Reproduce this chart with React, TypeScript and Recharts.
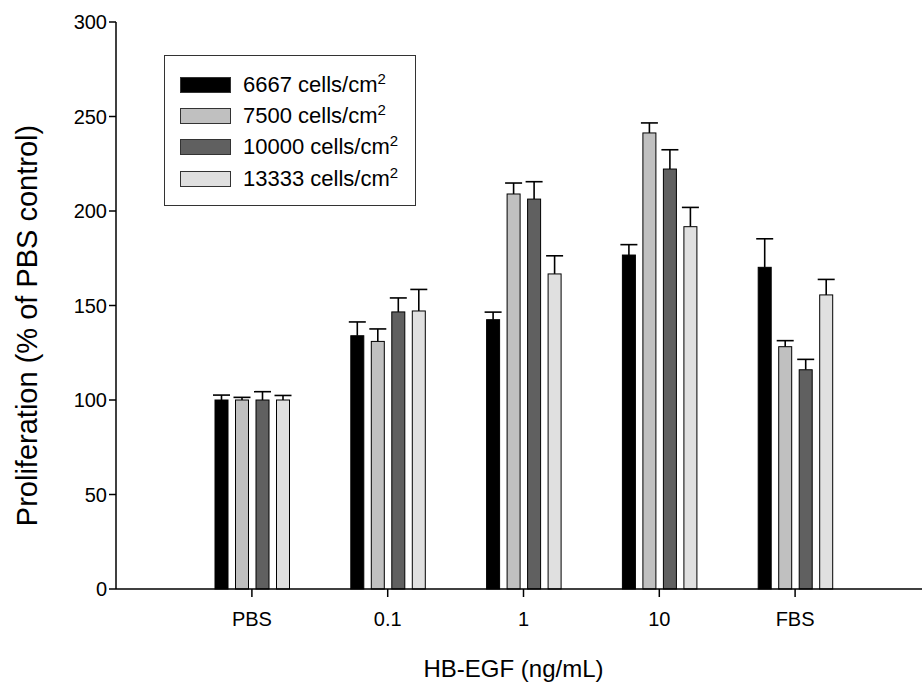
import React from 'react';
import { BarChart, Bar, XAxis, YAxis, Legend } from 'recharts';

const categories = ['PBS', '0.1', '1', '10', 'FBS'];
const seriesNames = ['6667', '7500', '10000', '13333'];
const s6667 = [100, 134, 142.5, 176.7, 170.2];
const e6667 = [2.6, 7.3, 4, 5.5, 15.1];
const s7500 = [100, 131, 209, 241.3, 128.2];
const e7500 = [1.4, 6.6, 5.8, 5.3, 3.2];
const s10000 = [100, 146.6, 206.3, 222.2, 116];
const e10000 = [4.4, 7.4, 9.2, 10.2, 5.5];
const s13333 = [100, 147.1, 166.7, 191.7, 155.6];
const e13333 = [2.4, 11.4, 9.6, 10.2, 8.2];
const yTicks = [0, 50, 100, 150, 200, 250, 300];
const colors = ['#000000', '#c0c0c0', '#606060', '#e0e0e0'];
const xTitle = 'HB-EGF (ng/mL)';
const yTitle = 'Proliferation (% of PBS control)';

const values = [s6667, s7500, s10000, s13333];
const errors = [e6667, e7500, e10000, e13333];

const data = categories.map((c, i) => {
  const row: any = { cat: c };
  values.forEach((s, k) => {
    row['v' + k] = s[i];
    row['e' + k] = errors[k][i];
  });
  return row;
});

const FONT = '"Liberation Sans", Arial, sans-serif';

const makeShape = (k: number) => (props: any) => {
  const { x, y, width, height, payload, fill } = props;
  const v = payload['v' + k];
  const err = payload['e' + k];
  const pxPerUnit = height / v;
  const top = y - err * pxPerUnit;
  const cx = x + width / 2;
  return (
    <g>
      <line x1={cx} x2={cx} y1={y} y2={top} stroke="#000" strokeWidth={1.6} />
      <line x1={cx - 8.5} x2={cx + 8.5} y1={top} y2={top} stroke="#000" strokeWidth={1.6} />
      <rect x={x} y={y} width={width} height={height} fill={fill} stroke="#000" strokeWidth={1} />
    </g>
  );
};

const LegendBox = () => (
  <div
    style={{
      width: 252,
      height: 151,
      border: '1px solid #333',
      background: '#fff',
      boxSizing: 'border-box',
      paddingTop: 13,
      fontFamily: FONT,
      fontSize: 22,
      color: '#000',
    }}
  >
    {seriesNames.map((n, k) => (
      <div key={n} style={{ height: 31.3, display: 'flex', alignItems: 'center' }}>
        <div
          style={{
            marginLeft: 15,
            width: 51,
            height: 16,
            background: colors[k],
            border: '1px solid #333',
            boxSizing: 'border-box',
          }}
        />
        <div style={{ marginLeft: 12, lineHeight: '22px', whiteSpace: 'nowrap' }}>
          {n} cells/cm<sup style={{ fontSize: 15, verticalAlign: 'top', position: 'relative', top: -6 }}>2</sup>
        </div>
      </div>
    ))}
  </div>
);

const YTitle = (props: any) => {
  const vb = props.viewBox || {};
  const cy = vb.y + vb.height / 2 + 20;
  const x = 37;
  return (
    <text x={x} y={cy} transform={`rotate(-90, ${x}, ${cy})`} textAnchor="middle" fill="#000" fontSize={29} fontFamily={FONT}>
      {yTitle}
    </text>
  );
};

const XTitle = (props: any) => {
  const vb = props.viewBox || {};
  const cx = vb.x + vb.width / 2 - 10;
  return (
    <text x={cx} y={677} textAnchor="middle" fill="#000" fontSize={24} fontFamily={FONT}>
      {xTitle}
    </text>
  );
};

export default function App() {
  return (
    <div style={{ position: 'absolute', left: 0, top: 0, width: 922, height: 686, overflow: 'hidden', background: '#fff' }}>
      <BarChart
        width={931}
        height={686}
        data={data}
        margin={{ top: 22, right: 0, bottom: 37, left: 56 }}
        barSize={13}
        barGap={7.5}
      >
        <XAxis
          dataKey="cat"
          height={60}
          padding={{ left: 68, right: 68 }}
          axisLine={{ stroke: '#000', strokeWidth: 1.5 }}
          tickLine={{ stroke: '#000', strokeWidth: 1.5 }}
          tickSize={8}
          tickMargin={15}
          tick={{ fill: '#000', fontSize: 20, fontFamily: FONT }}
          label={<XTitle />}
        />
        <YAxis
          width={60}
          domain={[0, 300]}
          ticks={yTicks}
          interval={0}
          axisLine={{ stroke: '#000', strokeWidth: 1.5 }}
          tickLine={{ stroke: '#000', strokeWidth: 1.5 }}
          tickSize={7}
          tick={{ fill: '#000', fontSize: 20, fontFamily: FONT }}
          label={<YTitle />}
        />
        <Legend
          layout="horizontal"
          verticalAlign="middle"
          align="center"
          wrapperStyle={{ left: 164, top: 55, width: 252 }}
          content={() => <LegendBox />}
        />
        {seriesNames.map((n, k) => (
          <Bar
            key={n}
            dataKey={'v' + k}
            name={n + ' cells/cm2'}
            fill={colors[k]}
            isAnimationActive={false}
            shape={makeShape(k)}
          />
        ))}
      </BarChart>
    </div>
  );
}
